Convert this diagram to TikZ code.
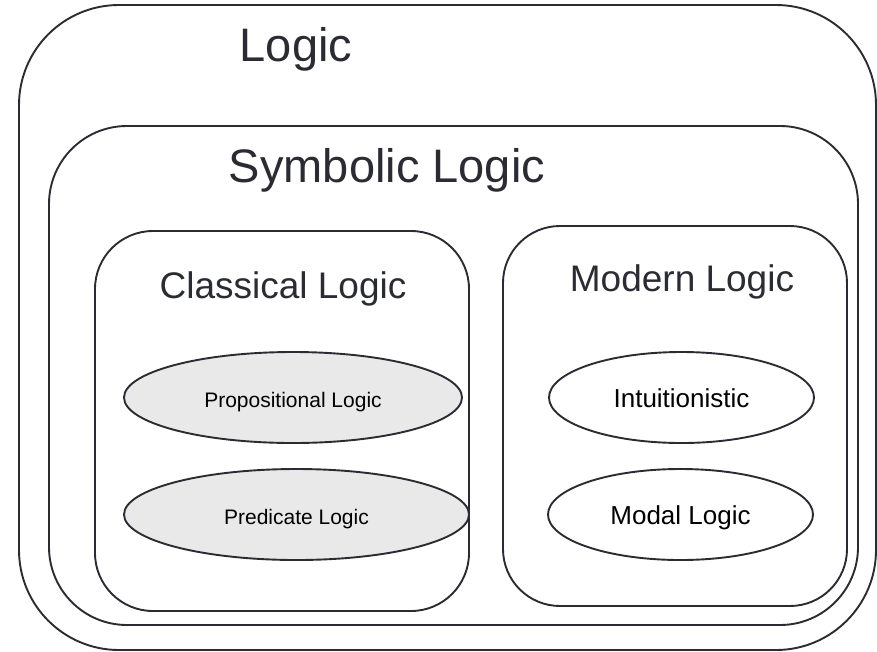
\documentclass[tikz,border=0pt]{standalone}
\usepackage{fontspec}
\setmainfont{Liberation Sans}
\usetikzlibrary{shapes.geometric}

\definecolor{edgegray}{HTML}{2B2B33}
\definecolor{ovalgray}{HTML}{E8E9E8}

\tikzset{
  region/.style={draw=edgegray, line width=1.9pt, inner sep=0pt},
  oval/.style={ellipse, draw=edgegray, line width=1.9pt, inner sep=0pt,
    minimum height=91pt, text height=19pt, text depth=0pt},
  title/.style={anchor=base, text=edgegray, inner sep=0pt}
}

\begin{document}
\begin{tikzpicture}[x=1pt, y=-1pt]
        \useasboundingbox (0, 0) rectangle (877, 651);

        %regions
        \node[region, rounded corners=100pt, minimum width=857pt, minimum height=645pt] (logic) at (447.5, 327.5) {};
        \node[region, rounded corners=78pt, minimum width=809pt, minimum height=499pt] (symbolic) at (453.5, 375.5) {};
        \node[region, rounded corners=58pt, minimum width=374pt, minimum height=380pt] (classical) at (282, 421) {};
        \node[region, rounded corners=57pt, minimum width=344pt, minimum height=380pt] (modern) at (675, 416) {};

        %titles
        \node[title, font=\fontsize{47}{56}\selectfont] (logictitle) at (296, 61) {Logic};
        \node[title, font=\fontsize{47}{56}\selectfont] (symbolictitle) at (387, 182) {Symbolic Logic};
        \node[title, font=\fontsize{37}{44}\selectfont] (classicaltitle) at (283, 298) {Classical Logic};
        \node[title, font=\fontsize{37}{44}\selectfont] (moderntitle) at (682, 291) {Modern Logic};

        %ovals
        \node[oval, fill=ovalgray, minimum width=338pt, font=\fontsize{21}{25}\selectfont] (prop) at (293, 397.5) {Propositional Logic};
        \node[oval, fill=ovalgray, minimum width=345pt, font=\fontsize{21}{25}\selectfont] (pred) at (296.5, 514.5) {Predicate Logic};
        \node[oval, fill=white, minimum width=265pt, font=\fontsize{26}{31}\selectfont] (intu) at (681.5, 397.5) {Intuitionistic};
        \node[oval, fill=white, minimum width=265pt, font=\fontsize{26}{31}\selectfont] (modal) at (680.5, 514.5) {Modal Logic};
    \end{tikzpicture}
\end{document}
